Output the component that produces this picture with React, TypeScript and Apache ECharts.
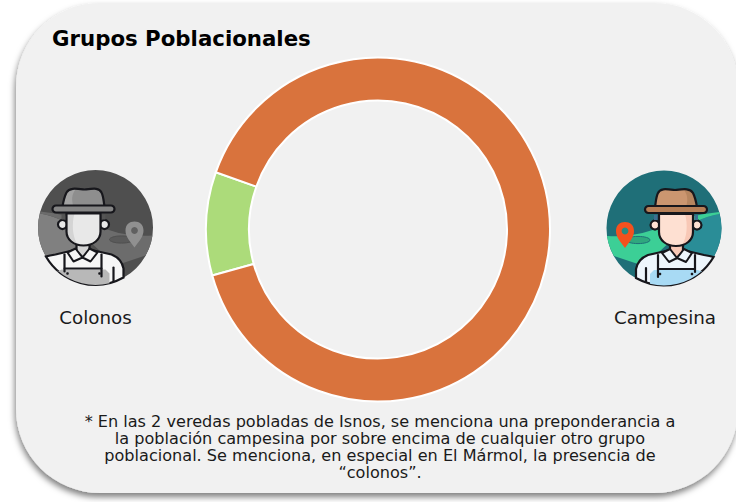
import React, { useEffect, useRef } from "react";
import * as echarts from "echarts";

const categories = ["Colonos", "Campesina"];
const values = [9.7, 90.3];
const sliceColors = ["#acdb7a", "#d9733d"];
const titleText = "Grupos Poblacionales";
const noteLines = [
  "* En las 2 veredas pobladas de Isnos, se menciona una preponderancia a",
  "la población campesina por sobre encima de cualquier otro grupo",
  "poblacional. Se menciona, en especial en El Mármol, la presencia de",
  "“colonos”.",
];

const shapes: Record<string, string> = {
  fBand: "M-57 8Q-25 10 0 -3Q25 -13 55.2 -16L55.6 -14Q30 -10 10 10L-20 38L-50 28A57.5 57.5 0 0 1 -57 8Z",
  fLight: "M55.6 -14Q30 -10 10 10L10 42L49.5 29A57.5 57.5 0 0 0 55.6 -14Z",
  fShirt: "M-28 50L-28 41Q-26 31 -16 27L6 22L19 22L40 27Q46 28 49.6 29A57.5 57.5 0 0 1 -28 50Z",
  fOverall: "M-10 42L34 42L38 44L38 43A57.5 57.5 0 0 1 -14 55.7L-14 46Z",
  fCrown: "M-9 -21C-8 -27 -8 -31 -6 -35C-4 -40 2 -39 11 -38C20 -39 26 -40 29 -35C31 -31 32 -27 33 -21Z",
  fCrownDark: "M20 -38C24 -39 27 -39 29 -35C31 -31 32 -27 33 -21L22 -21C24 -27 24 -33 20 -38Z",
  fFace: "M-5 -14L29 -14L29 4C29 12 22 18 12 18C2 18 -5 12 -5 4Z",
  fFaceDark: "M21 -14L29 -14L29 4C29 10 24 16 18 17C23 10 24 -4 21 -14Z",
  fNeck: "M6 16L19 16L19 24L12.5 30L6 24Z",
  fCollar: "M-2 25L6 21L13 30L20 21L28 25L22 34L13 30L5 34Z",
  fPin: "M-39 20C-44 13 -48 9 -48 3C-48 -3 -44 -6 -39 -6C-34 -6 -30 -3 -30 3C-30 9 -34 13 -39 20Z",
};
Object.keys(shapes).forEach((k) =>
  echarts.graphic.registerShape(k, (echarts.graphic as any).extendPath(shapes[k], {}))
);

type Pal = Record<string, string>;
const colorPal: Pal = {
  bg: "#1f6f78", band: "#3ccf96", light: "#2a8d97", crown: "#cb9670", crownDark: "#b6855f", brim: "#b67f57",
  face: "#fee0d2", faceDark: "#f8c8b6", shirt: "#eef6fc", overall: "#a8daf4", pin: "#f4511e", pinHole: "#2b8a80",
  shadow: "#2fa87e", hair: "#3d6f92",
};
const grayPal: Pal = {
  bg: "#4f4f4f", band: "#6c6c6c", light: "#808080", crown: "#8e8e8e", crownDark: "#a2a2a2", brim: "#858585",
  face: "#e8e8e8", faceDark: "#d4d4d4", shirt: "#f6f6f6", overall: "#b8b8b8", pin: "#909090", pinHole: "#606060",
  shadow: "#5a5a5a", hair: "#555555",
};

const INK = "#17171c";
function farmer(cx: number, cy: number, mirror: boolean, p: Pal) {
  const sk = { stroke: INK, lineWidth: 2.2 };
  const line = (x1: number, y1: number, x2: number, y2: number, w = 2.2) => ({
    type: "line", shape: { x1, y1, x2, y2 }, style: { stroke: INK, lineWidth: w, lineCap: "round" },
  });
  return {
    type: "group", x: cx, y: cy, scaleX: mirror ? -1 : 1, silent: true,
    children: [
      { type: "circle", shape: { cx: 0, cy: 0, r: 57.5 }, style: { fill: p.bg } },
      { type: "fLight", style: { fill: p.light } },
      { type: "fBand", style: { fill: p.band } },
      { type: "ellipse", shape: { cx: -26, cy: 12, rx: 12, ry: 3.6 }, style: { fill: p.shadow, stroke: p.bg, lineWidth: 1 } },
      { type: "fPin", style: { fill: p.pin } },
      { type: "circle", shape: { cx: -39, cy: 3, r: 3.4 }, style: { fill: p.pinHole } },
      { type: "fShirt", style: { fill: p.shirt, ...sk } },
      { type: "fOverall", style: { fill: p.overall } },
      { type: "fNeck", style: { fill: p.faceDark, ...sk } },
      { type: "fCollar", style: { fill: p.shirt, stroke: INK, lineWidth: 2, lineJoin: "round" } },
      line(-6, 27, -6, 49),
      line(31, 27, 31, 44),
      line(-6, 41, 31, 41, 2),
      line(-18, 40, -18, 54),
      { type: "circle", shape: { cx: -4, cy: 46, r: 1.3 }, style: { fill: INK } },
      { type: "circle", shape: { cx: 28, cy: 46, r: 1.3 }, style: { fill: INK } },
      { type: "circle", shape: { cx: -9, cy: -3, r: 4.5 }, style: { fill: p.face, ...sk } },
      { type: "circle", shape: { cx: 33, cy: -3, r: 4.5 }, style: { fill: p.face, ...sk } },
      { type: "rect", shape: { x: -10, y: -13, width: 3.5, height: 5 }, style: { fill: p.hair } },
      { type: "rect", shape: { x: 30.5, y: -13, width: 3.5, height: 5 }, style: { fill: p.hair } },
      { type: "fFace", style: { fill: p.face } },
      { type: "fFaceDark", style: { fill: p.faceDark } },
      { type: "fFace", style: { fill: "transparent", ...sk } },
      { type: "fCrown", style: { fill: p.crown } },
      { type: "fCrownDark", style: { fill: p.crownDark } },
      { type: "fCrown", style: { fill: "transparent", ...sk } },
      { type: "rect", shape: { x: -19, y: -22, width: 62, height: 7, r: 3.5 }, style: { fill: p.brim, ...sk } },
    ],
  };
}

export default function App() {
  const ref = useRef<HTMLDivElement>(null);
  useEffect(() => {
    const chart = echarts.init(ref.current!, undefined, { renderer: "svg" });
    const font = "'DejaVu Sans', Verdana, sans-serif";
    const label = (text: string, x: number, y: number) => ({
      type: "text", x, y, silent: true,
      style: { text, fill: "#1a1a1a", font: `18.3px ${font}`, textAlign: "center", textVerticalAlign: "middle" },
    });
    chart.setOption({
      animation: false,
      backgroundColor: "#ffffff",
      title: {
        text: titleText, left: 52, top: 28, padding: 0,
        textStyle: { color: "#000", fontFamily: font, fontWeight: "bold", fontSize: 21.3 },
      },
      graphic: [
        {
          type: "rect", z: -10, silent: true,
          shape: { x: 16, y: 3, width: 722, height: 490, r: 84 },
          style: { fill: "#f1f1f1", shadowBlur: 6, shadowColor: "rgba(0,0,0,0.5)", shadowOffsetX: -1, shadowOffsetY: 4 },
        },
        farmer(95.5, 227.5, true, grayPal),
        farmer(664, 228, false, colorPal),
        label(categories[0], 95.5, 317),
        label(categories[1], 665, 317),
        {
          type: "text", x: 380, y: 447, silent: true,
          style: {
            text: noteLines.join("\n"), fill: "#1a1a1a", font: `16.1px ${font}`, lineHeight: 17.3,
            textAlign: "center", textVerticalAlign: "middle",
          },
        },
      ],
      series: [
        {
          type: "pie",
          center: [378, 229.5],
          radius: [129, 172],
          startAngle: 195.5,
          silent: true,
          label: { show: false },
          labelLine: { show: false },
          itemStyle: { borderColor: "#ffffff", borderWidth: 2 },
          data: categories.map((name, i) => ({ name, value: values[i], itemStyle: { color: sliceColors[i] } })),
        },
      ],
    });
    return () => chart.dispose();
  }, []);
  return <div ref={ref} style={{ position: "fixed", left: 0, top: 0, width: 736, height: 502 }} />;
}
